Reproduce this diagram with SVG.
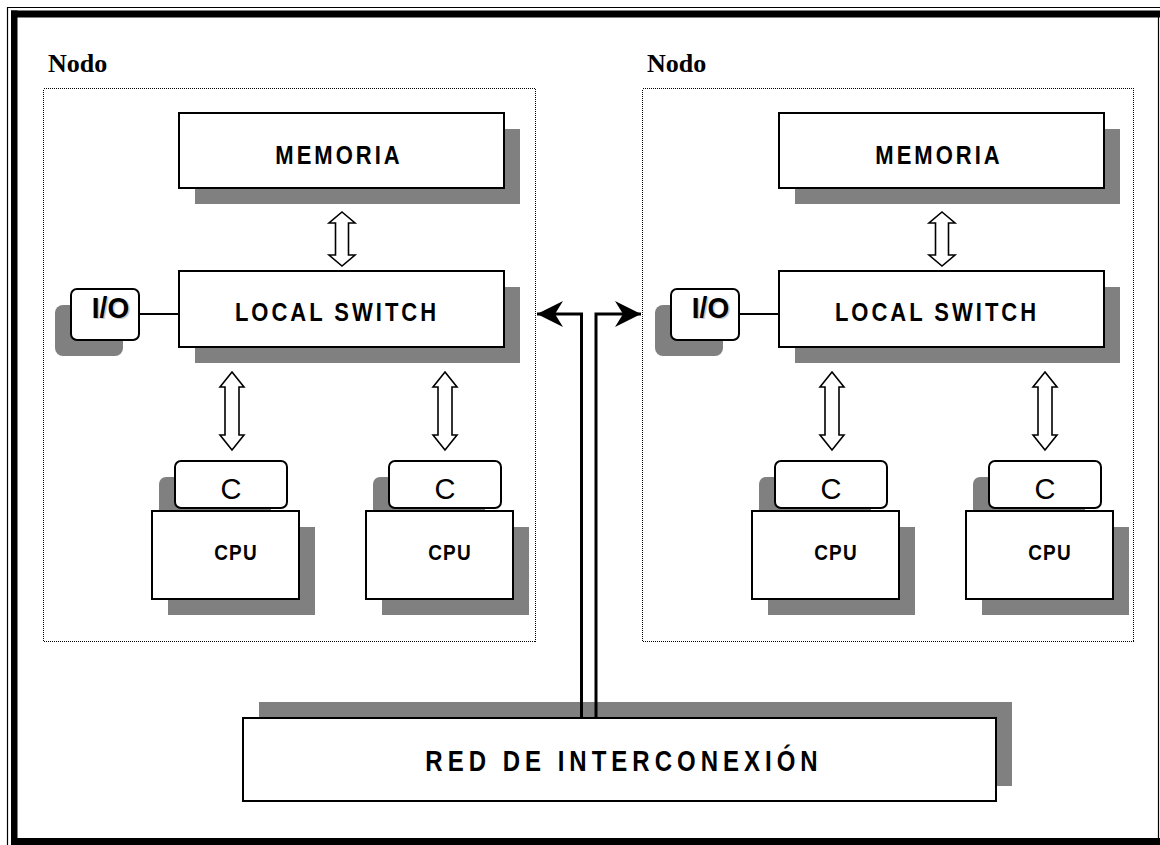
<svg xmlns="http://www.w3.org/2000/svg" width="1160" height="845" viewBox="0 0 1160 845">
  <style>
    .box { fill: #ffffff; stroke: #000000; stroke-width: 2; }
    .shadow { fill: #808080; stroke: none; }
    .zone { fill: none; stroke: #000000; stroke-width: 1.2; stroke-dasharray: 1 1; shape-rendering: crispEdges; }
    .barrow { fill: #ffffff; stroke: #000000; stroke-width: 1.6; stroke-linejoin: miter; }
    .lbl { font-family: "Liberation Sans", Arial, sans-serif; font-weight: bold; fill: #000000; text-anchor: middle; }
    .big { font-size: 22px; letter-spacing: 3px; }
    .cpu { font-size: 19px; letter-spacing: 1.2px; }
    .cache { font-family: "Liberation Sans", Arial, sans-serif; font-size: 29px; fill: #000000; text-anchor: middle; }
    .io { font-size: 28px; }
    .io-shade { fill: #c8c8c8; }
    .nodo { font-family: "Liberation Serif", "Times New Roman", serif; font-weight: bold; font-size: 26px; fill: #000000; }
    .bus { fill: none; stroke: #000000; stroke-width: 3; stroke-linejoin: miter; }
  </style>
  <defs>
    <!-- hollow double-headed block arrows, centred on x=0, starting at y=0 -->
    <path id="dbl-short" class="barrow" d="M0,0 L13,11 L6.5,11 L6.5,43 L13,43 L0,54 L-13,43 L-6.5,43 L-6.5,11 L-13,11 Z"/>
    <path id="dbl-long" class="barrow" d="M0,0 L12,15 L7,15 L7,63 L12,63 L0,78 L-12,63 L-7,63 L-7,15 L-12,15 Z"/>
    <marker id="barb" viewBox="0 0 28 28" refX="27" refY="14" markerWidth="28" markerHeight="28" markerUnits="userSpaceOnUse" orient="auto">
      <path d="M27,14 L1,1 L9,14 L1,27 Z" fill="#000000"/>
    </marker>
  </defs>

  <!-- page frame: thin outer rule and heavy inner rule -->
  <g id="frame">
    <rect x="0" y="0" width="1160" height="845" fill="#ffffff"/>
    <path d="M7.5,845 L7.5,7.5 L1160,7.5" fill="none" stroke="#000" stroke-width="1.2"/>
    <rect x="11" y="10.5" width="1149" height="7" fill="#000"/>
    <rect x="11" y="10.5" width="6.5" height="834.5" fill="#000"/>
    <rect x="11" y="838" width="1149" height="7" fill="#000"/>
    <line x1="1158.5" y1="17" x2="1158.5" y2="838" stroke="#000" stroke-width="1.2"/>
  </g>

  <!-- left node -->
  <g id="node-left">
    <text class="nodo" x="48" y="72">Nodo</text>
    <rect class="zone" x="43.5" y="88.5" width="492" height="553"/>
  </g>
  <g id="memoria-left">
    <rect class="shadow" x="195" y="129" width="325" height="75"/>
    <rect class="box" x="179" y="113" width="325" height="75"/>
    <text class="lbl big" transform="translate(339,164) scale(1,1.16)">MEMORIA</text>
  </g>
  <g id="switch-left">
    <rect class="shadow" x="195" y="287" width="325" height="76"/>
    <rect class="box" x="179" y="271" width="325" height="76"/>
    <text class="lbl big" transform="translate(337,320.5) scale(1,1.16)">LOCAL SWITCH</text>
  </g>
  <g id="io-left">
    <rect class="shadow" x="55" y="305" width="68" height="51" rx="8"/>
    <rect class="box" x="71" y="289" width="68" height="51" rx="6"/>
    <text class="lbl io io-shade" transform="translate(112,319) scale(1,1.08)">I/O</text>
    <text class="lbl io" transform="translate(110.5,318) scale(1,1.08)">I/O</text>
  </g>
  <g id="cpu-left-1">
    <rect class="shadow" x="159" y="477" width="112" height="47" rx="7"/>
    <rect class="box" x="175" y="461" width="112" height="47" rx="6"/>
    <text class="cache" x="231" y="498.5">C</text>
    <rect class="shadow" x="168" y="527" width="147" height="88"/>
    <rect class="box" x="152" y="511" width="147" height="88"/>
    <text class="lbl cpu" transform="translate(236,559.5) scale(1,1.12)">CPU</text>
  </g>
  <g id="cpu-left-2">
    <rect class="shadow" x="373" y="477" width="112" height="47" rx="7"/>
    <rect class="box" x="389" y="461" width="112" height="47" rx="6"/>
    <text class="cache" x="445" y="498.5">C</text>
    <rect class="shadow" x="382" y="527" width="147" height="88"/>
    <rect class="box" x="366" y="511" width="147" height="88"/>
    <text class="lbl cpu" transform="translate(450,559.5) scale(1,1.12)">CPU</text>
  </g>

  <!-- right node -->
  <g id="node-right">
    <text class="nodo" x="647" y="72">Nodo</text>
    <rect class="zone" x="642.5" y="88.5" width="491" height="553"/>
  </g>
  <g id="memoria-right">
    <rect class="shadow" x="795" y="129" width="325" height="75"/>
    <rect class="box" x="779" y="113" width="325" height="75"/>
    <text class="lbl big" transform="translate(939,164) scale(1,1.16)">MEMORIA</text>
  </g>
  <g id="switch-right">
    <rect class="shadow" x="795" y="287" width="325" height="76"/>
    <rect class="box" x="779" y="271" width="325" height="76"/>
    <text class="lbl big" transform="translate(937,320.5) scale(1,1.16)">LOCAL SWITCH</text>
  </g>
  <g id="io-right">
    <rect class="shadow" x="655" y="305" width="68" height="51" rx="8"/>
    <rect class="box" x="671" y="289" width="68" height="51" rx="6"/>
    <text class="lbl io io-shade" transform="translate(712,319) scale(1,1.08)">I/O</text>
    <text class="lbl io" transform="translate(710.5,318) scale(1,1.08)">I/O</text>
  </g>
  <g id="cpu-right-1">
    <rect class="shadow" x="759" y="477" width="112" height="47" rx="7"/>
    <rect class="box" x="775" y="461" width="112" height="47" rx="6"/>
    <text class="cache" x="831" y="498.5">C</text>
    <rect class="shadow" x="768" y="527" width="147" height="88"/>
    <rect class="box" x="752" y="511" width="147" height="88"/>
    <text class="lbl cpu" transform="translate(836,559.5) scale(1,1.12)">CPU</text>
  </g>
  <g id="cpu-right-2">
    <rect class="shadow" x="973" y="477" width="112" height="47" rx="7"/>
    <rect class="box" x="989" y="461" width="112" height="47" rx="6"/>
    <text class="cache" x="1045" y="498.5">C</text>
    <rect class="shadow" x="982" y="527" width="147" height="88"/>
    <rect class="box" x="966" y="511" width="147" height="88"/>
    <text class="lbl cpu" transform="translate(1050,559.5) scale(1,1.12)">CPU</text>
  </g>

  <!-- interconnection network -->
  <g id="red">
    <rect class="shadow" x="259" y="702" width="753" height="84"/>
    <rect class="box" x="243" y="718" width="753" height="83"/>
    <text class="lbl" transform="translate(624,770.5) scale(1,1.2)" style="font-size:24px;letter-spacing:5px">RED DE INTERCONEXIÓN</text>
  </g>

  <!-- connectors -->
  <g id="connectors">
    <line x1="139" y1="314" x2="179" y2="314" stroke="#000" stroke-width="2"/>
    <line x1="739" y1="314" x2="779" y2="314" stroke="#000" stroke-width="2"/>
    <use href="#dbl-short" x="342" y="212"/>
    <use href="#dbl-short" x="942" y="212"/>
    <use href="#dbl-long" x="232" y="372"/>
    <use href="#dbl-long" x="445" y="372"/>
    <use href="#dbl-long" x="832" y="372"/>
    <use href="#dbl-long" x="1045" y="372"/>
    <path class="bus" d="M581.5,718 L581.5,314 L537,314" marker-end="url(#barb)"/>
    <path class="bus" d="M596,718 L596,314 L641,314" marker-end="url(#barb)"/>
  </g>
</svg>
